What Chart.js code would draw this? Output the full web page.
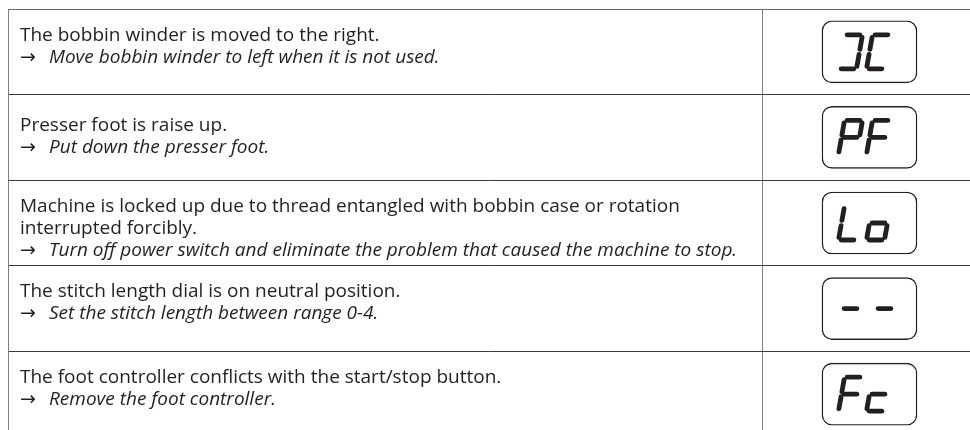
<!DOCTYPE html>
<html>
<head>
<meta charset="utf-8">
<script src="https://cdn.jsdelivr.net/npm/chart.js@4/dist/chart.umd.min.js"></script>
<style>
  html, body { margin: 0; padding: 0; background: #ffffff; overflow: hidden; }
  #wrap { width: 970px; height: 440px; }
</style>
</head>
<body>
<div id="wrap"><canvas id="c" width="970" height="440"></canvas></div>
<script>
// ---- data ----
const codes = ["JC", "PF", "Lo", "--", "Fc"];
const problems = [
  ["The bobbin winder is moved to the right."],
  ["Presser foot is raise up."],
  ["Machine is locked up due to thread entangled with bobbin case or rotation", "interrupted forcibly."],
  ["The stitch length dial is on neutral position."],
  ["The foot controller conflicts with the start/stop button."]
];
const solutions = [
  "Move bobbin winder to left when it is not used.",
  "Put down the presser foot.",
  "Turn off power switch and eliminate the problem that caused the machine to stop.",
  "Set the stitch length between range 0-4.",
  "Remove the foot controller."
];

// ---- layout constants (table units / pixels) ----
const TABLE_W = 962;
const COL_SPLIT = 754;
const BOX = [814, 909];
const TEXT_TOP = 31.5;
const TEXT_NUDGE = [0, 5, 0, 0, 0];

// seven-segment maps as drawn on the display
const SEG = {
  "J": "abcd", "C": "adef", "P": "abefg", "F": "aefg",
  "L": "def", "o": "cdeg", "-": "g", "c": "deg"
};

const TEXT_COLOR = "#231f20";
const FONT_FAMILY = "'Open Sans', 'Noto Sans', 'DejaVu Sans', sans-serif";

const ctx0 = document.getElementById('c').getContext('2d');
ctx0.font = "100px " + FONT_FAMILY;
const refW = ctx0.measureText(problems[2][0]).width;
const FONT_SIZE = Math.max(13, Math.min(19, 660 / refW * 100));

const tablePlugin = {
  id: 'tableText',
  afterDraw(chart) {
    const ctx = chart.ctx;
    const ys = chart.scales.y;
    const left = chart.chartArea.left + 12;
    const lh = 22;
    const rowH = Math.abs(ys.getPixelForValue(1) - ys.getPixelForValue(0));
    ctx.save();
    ctx.fillStyle = TEXT_COLOR;
    ctx.textBaseline = 'alphabetic';
    ctx.textAlign = 'left';
    codes.forEach((code, i) => {
      const cy = ys.getPixelForValue(i);
      const rowTop = cy - rowH / 2;
      const n = problems[i].length + 1;
      const firstBase = rowTop + TEXT_TOP + TEXT_NUDGE[i];
      problems[i].forEach((t, k) => {
        ctx.font = FONT_SIZE + "px " + FONT_FAMILY;
        ctx.fillText(t, left, firstBase + k * lh);
      });
      const yb = firstBase + (n - 1) * lh;
      ctx.font = FONT_SIZE + "px " + FONT_FAMILY;
      ctx.fillText("\u2192", left, yb);
      ctx.font = "italic " + FONT_SIZE + "px " + FONT_FAMILY;
      ctx.fillText(solutions[i], left + 29, yb);
    });
    ctx.restore();

    // seven-segment glyphs inside each display box
    const meta = chart.getDatasetMeta(0);
    ctx.save();
    ctx.strokeStyle = TEXT_COLOR;
    ctx.lineWidth = 4.8;
    ctx.lineCap = 'round';
    meta.data.forEach((el, i) => {
      const cx = (el.x + el.base) / 2;
      const cy = el.y;
      const W = 18, H = 34, S = 6, gap = 2.6;
      const pitch = codes[i] === "--" ? 34 : 28;
      const chars = codes[i].split('');
      chars.forEach((ch, j) => {
        const x0 = cx - 31 + j * pitch;
        const y0 = cy - 17;
        const P = (u, v) => [x0 + u * W + (1 - v) * S, y0 + v * H];
        const segDef = {
          a: [0, 0, 1, 0], b: [1, 0, 1, 0.5], c: [1, 0.5, 1, 1],
          d: [0, 1, 1, 1], e: [0, 0.5, 0, 1], f: [0, 0, 0, 0.5], g: [0, 0.5, 1, 0.5]
        };
        (SEG[ch] || "").split('').forEach(s => {
          const d = segDef[s];
          const p1 = P(d[0], d[1]), p2 = P(d[2], d[3]);
          const dx = p2[0] - p1[0], dy = p2[1] - p1[1];
          const len = Math.hypot(dx, dy);
          const ux = dx / len, uy = dy / len;
          ctx.beginPath();
          ctx.moveTo(p1[0] + ux * gap, p1[1] + uy * gap);
          ctx.lineTo(p2[0] - ux * gap, p2[1] - uy * gap);
          ctx.stroke();
        });
      });
    });
    ctx.restore();
  }
};

new Chart(document.getElementById('c'), {
  type: 'bar',
  data: {
    labels: codes,
    datasets: [{
      data: codes.map(() => BOX.slice()),
      backgroundColor: '#ffffff',
      borderColor: TEXT_COLOR,
      borderWidth: 1.4,
      borderRadius: 10,
      borderSkipped: false,
      barThickness: 62
    }]
  },
  options: {
    indexAxis: 'y',
    responsive: false,
    animation: false,
    devicePixelRatio: 1,
    layout: { padding: { left: 8, top: 9, right: 0, bottom: 3 } },
    plugins: { legend: { display: false }, tooltip: { enabled: false } },
    scales: {
      x: {
        type: 'linear', min: 0, max: TABLE_W, position: 'top',
        ticks: { display: false },
        grid: { drawTicks: false, color: '#808080', lineWidth: 1 },
        border: { display: true, color: '#6a6a6a', width: 1 },
        afterBuildTicks: (s) => { s.ticks = [{ value: COL_SPLIT }]; },
        afterFit: (s) => { s.height = 0; }
      },
      y: {
        type: 'category', offset: true,
        ticks: { display: false },
        grid: { offset: true, drawTicks: false, color: '#3a3a3a', lineWidth: 1 },
        border: { display: true, color: '#808080', width: 1 },
        afterFit: (s) => { s.width = 0; }
      }
    }
  },
  plugins: [tablePlugin]
});
</script>
</body>
</html>
